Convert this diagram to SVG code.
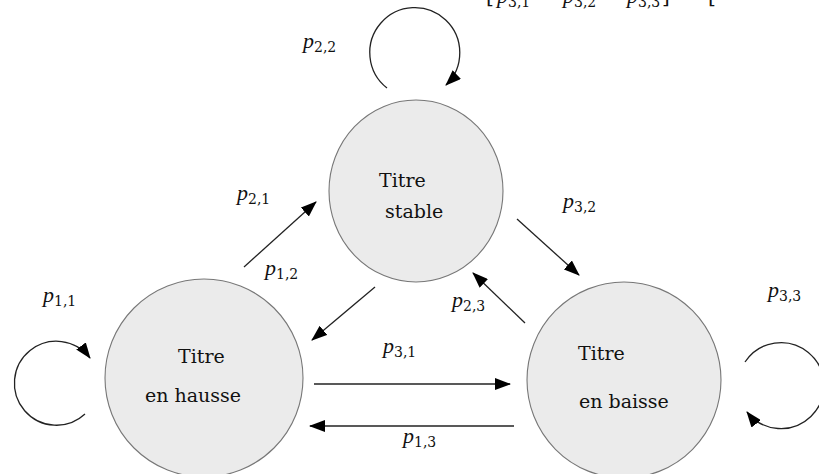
<svg xmlns="http://www.w3.org/2000/svg" width="819" height="474" viewBox="0 0 819 474">
<style>
.node{fill:#ebebeb;stroke:#777;stroke-width:1.1}
.nt{font-family:"DejaVu Serif","Liberation Serif",serif;font-size:19px;fill:#111}
.lbl{font-family:"DejaVu Serif","Liberation Serif",serif;font-size:20px;fill:#111}
.lbl .v{font-family:"Liberation Serif",serif;font-style:italic;font-size:22px}
.lbl .s{font-size:14px}
.edge{fill:none;stroke:#222;stroke-width:1.3;marker-end:url(#ah)}
</style>
<defs>
<marker id="ah" markerUnits="userSpaceOnUse" viewBox="0 0 16 12" markerWidth="16" markerHeight="12" refX="15" refY="6" orient="auto">
<path d="M0,0 L16,6 L0,12 z" fill="#000"/>
</marker>
</defs>
<rect width="819" height="474" fill="#fff"/>
<g id="top-text" class="lbl">
<text x="486" y="3">[</text>
<text x="497" y="3"><tspan class="v">p</tspan><tspan class="s" dy="4">3,1</tspan></text>
<text x="563" y="3"><tspan class="v">p</tspan><tspan class="s" dy="4">3,2</tspan></text>
<text x="627" y="3"><tspan class="v">p</tspan><tspan class="s" dy="4">3,3</tspan></text>
<text x="662" y="3">]</text>
<text x="708" y="3">[</text>
</g>
<g id="connectors">
<path class="edge" d="M387,88 A45,45 0 1 1 446,85"/>
<path class="edge" d="M85,414 A42,42 0 1 1 90,358"/>
<path class="edge" d="M745,362 A43,43 0 1 1 747,412"/>
<line class="edge" x1="244" y1="267" x2="316" y2="202"/>
<line class="edge" x1="375" y1="287" x2="312" y2="340"/>
<line class="edge" x1="517" y1="219" x2="579" y2="275"/>
<line class="edge" x1="525" y1="323" x2="473" y2="273"/>
<line class="edge" x1="314" y1="384" x2="510" y2="384"/>
<line class="edge" x1="514" y1="426" x2="310" y2="426"/>
</g>
<g id="labels" class="lbl">
<text x="303" y="48"><tspan class="v">p</tspan><tspan class="s" dy="4">2,2</tspan></text>
<text x="43" y="302"><tspan class="v">p</tspan><tspan class="s" dy="4">1,1</tspan></text>
<text x="237" y="200"><tspan class="v">p</tspan><tspan class="s" dy="4">2,1</tspan></text>
<text x="265" y="275"><tspan class="v">p</tspan><tspan class="s" dy="4">1,2</tspan></text>
<text x="563" y="208"><tspan class="v">p</tspan><tspan class="s" dy="4">3,2</tspan></text>
<text x="452" y="307"><tspan class="v">p</tspan><tspan class="s" dy="4">2,3</tspan></text>
<text x="383" y="353"><tspan class="v">p</tspan><tspan class="s" dy="4">3,1</tspan></text>
<text x="403" y="443"><tspan class="v">p</tspan><tspan class="s" dy="4">1,3</tspan></text>
<text x="768" y="297"><tspan class="v">p</tspan><tspan class="s" dy="4">3,3</tspan></text>
</g>
<g id="stable">
<ellipse class="node" cx="416" cy="191" rx="87" ry="91"/>
<text class="nt" x="379" y="187">Titre</text>
<text class="nt" x="385" y="218">stable</text>
</g>
<g id="hausse">
<circle class="node" cx="204" cy="378" r="99"/>
<text class="nt" x="178" y="363">Titre</text>
<text class="nt" x="145" y="402">en hausse</text>
</g>
<g id="baisse">
<ellipse class="node" cx="624" cy="380" rx="97" ry="98"/>
<text class="nt" x="578" y="360">Titre</text>
<text class="nt" x="579" y="408">en baisse</text>
</g>
</svg>
